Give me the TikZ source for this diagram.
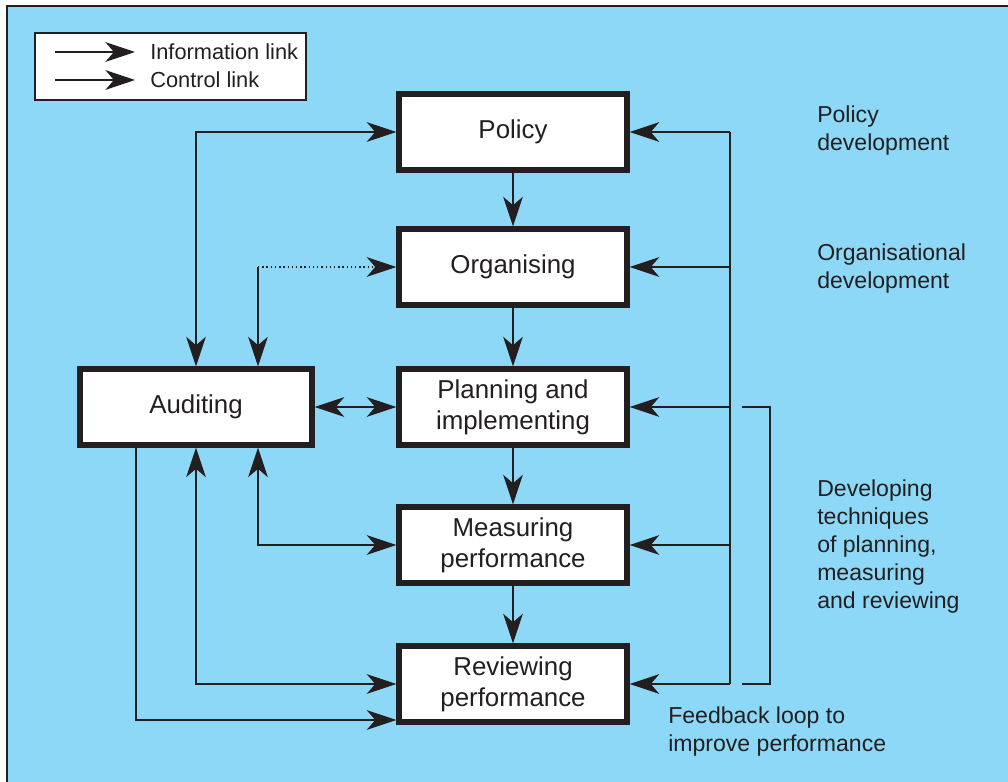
\documentclass[tikz,border=0pt]{standalone}
\usepackage{fontspec}
\setmainfont{Liberation Sans}
\usepackage{tikz}
\usetikzlibrary{arrows.meta}

\definecolor{skyblue}{RGB}{141,215,247}
\definecolor{inkgrey}{RGB}{35,31,32}

\begin{document}
\begin{tikzpicture}[x=0.025cm,y=-0.025cm,
    stage/.style={draw=inkgrey,line width=3.8pt,fill=white,minimum width=5.7cm,
      minimum height=1.9cm,align=center,font=\fontsize{18.4}{22}\selectfont,
      text=inkgrey,inner sep=0pt},
    link/.style={draw=inkgrey,line width=1pt,-{Stealth[length=21pt,width=14pt,inset=6pt]}},
    twoway/.style={draw=inkgrey,line width=1pt,
      {Stealth[length=21pt,width=14pt,inset=6pt]}-{Stealth[length=21pt,width=14pt,inset=6pt]}},
    note/.style={anchor=west,align=left,inner sep=0pt,text=inkgrey,
      font=\fontsize{16.4}{19.9}\selectfont}]
  % Background and frame
  \useasboundingbox (0,0) rectangle (1008,782);
  \fill[skyblue] (7,6) rectangle (1008,782);
  \draw[inkgrey,line width=1.2pt] (7,782) -- (7,6) -- (1008,6);
  % Legend
  \draw[inkgrey,fill=white,line width=0.8pt] (35,33) rectangle (306,100);
  \coordinate (infostart) at (55,52);
  \coordinate (infoend) at (135,52);
  \coordinate (ctrlstart) at (55,80);
  \coordinate (ctrlend) at (135,80);
  \draw[link] (infostart) -- (infoend);
  \draw[link] (ctrlstart) -- (ctrlend);
  \node[note,font=\fontsize{15.5}{18}\selectfont] (infotext) at (150,52) {Information link};
  \node[note,font=\fontsize{15.5}{18}\selectfont] (ctrltext) at (150,80) {Control link};
  % Stages
  \node[stage] (policy) at (513,132) {Policy};
  \node[stage] (organising) at (513,267) {Organising};
  \node[stage] (planning) at (513,407) {Planning and\\implementing};
  \node[stage] (measuring) at (513,545) {Measuring\\performance};
  \node[stage] (reviewing) at (513,684) {Reviewing\\performance};
  \node[stage,minimum width=5.8cm] (auditing) at (196,407) {Auditing};
  % Downward chain
  \draw[link] (policy) -- (organising);
  \draw[link] (organising) -- (planning);
  \draw[link] (planning) -- (measuring);
  \draw[link] (measuring) -- (reviewing);
  % Feedback loop on the right
  \coordinate (feedtop) at (730,132);
  \coordinate (feedbottom) at (730,684);
  \draw[inkgrey,line width=1pt] (feedtop) -- (feedbottom);
  \foreach \n in {policy,organising,planning,measuring,reviewing}
    \draw[link] (\n.east -| feedtop) -- (\n.east);
  % Bracket
  \coordinate (brackettop) at (742,407);
  \coordinate (bracketbottom) at (742,684);
  \draw[inkgrey,line width=1pt] (brackettop) -- ++(28,0) |- (bracketbottom);
  % Auditing links
  \draw[twoway] (policy.west) -| (auditing.north);
  \coordinate (orgcorner) at (258,267);
  \draw[link,dotted] (orgcorner) -- (organising.west);
  \draw[link] (orgcorner) -- (orgcorner |- auditing.north);
  \draw[twoway] (auditing) -- (planning);
  \coordinate (meascorner) at (258,545);
  \draw[twoway] (meascorner |- auditing.south) -- (meascorner) -- (measuring.west);
  \draw[twoway] (auditing.south) |- (reviewing.west);
  \coordinate (auditout) at (136,447);
  \draw[link] (auditout) |- ([yshift=-0.9cm]reviewing.west);
  % Notes
  \node[note] (policynote) at (817,131) {Policy\\development};
  \node[note] (orgnote) at (817,269) {Organisational\\development};
  \node[note] (technote) at (817,547) {Developing\\techniques\\of planning,\\measuring\\and reviewing};
  \node[note] (feednote) at (668,732) {Feedback loop to\\improve performance};
\end{tikzpicture}
\end{document}
